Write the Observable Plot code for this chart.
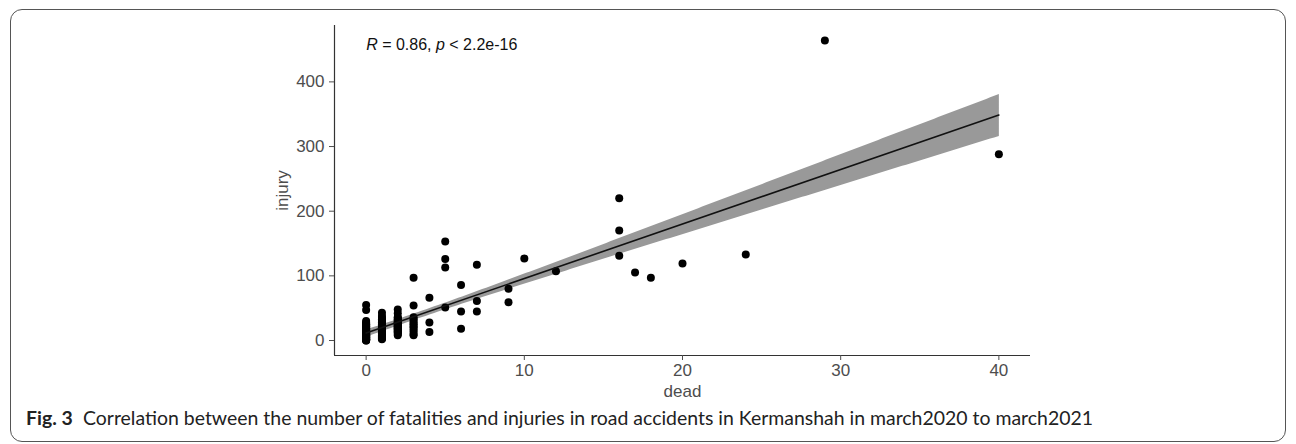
<!DOCTYPE html>
<html><head><meta charset="utf-8">
<script src="https://cdn.jsdelivr.net/npm/d3@7"></script>
<script src="https://cdn.jsdelivr.net/npm/@observablehq/plot@0.6"></script>
<style>
html,body{margin:0;padding:0;background:#fff;width:1296px;height:444px;overflow:hidden}
#frame{position:absolute;left:10px;top:9px;width:1276px;height:433px;border:1.3px solid #555;border-radius:12px;box-sizing:border-box}
#chart{position:absolute;left:0;top:0}
#caption{position:absolute;left:26px;top:406px;font-family:Lato,"Open Sans",sans-serif;font-size:19px;color:#222;white-space:nowrap;transform-origin:0 50%}
#caption b{font-weight:700;margin-right:10px}
</style></head><body>
<div id="frame"></div>
<div id="chart"></div>
<div id="caption"><b>Fig. 3</b>Correlation between the number of fatalities and injuries in road accidents in Kermanshah in march2020 to march2021</div>
<script>
// daily records: many dots overlap in the columns at 0–3 deaths
const dead = [
  0,0,0,0,0,0,0,0,0,0,0,0,0,0,0,0,0,0,0,0,
  0,0,0,0,0,0,0,0,0,0,0,0,0,0,0,0,0,0,0,0,
  1,1,1,1,1,1,1,1,1,1,1,1,1,
  1,1,1,1,1,1,1,1,1,1,1,1,1,1,1,1,1,1,1,1,
  2,2,2,2,2,2,2,2,2,2,2,
  2,2,2,2,2,2,2,2,2,2,2,2,2,2,2,
  3,3,3,3,3,3,3,3,
  3,3,3,3,3,
  4,4,4,
  5,5,5,5,
  6,6,6,
  7,7,7,
  9,9,
  10,12,16,16,16,17,18,20,24,29,40
];
const injury = [
  55,47,30,28,26,24,22,20,18,16,14,12,10,8,6,5,3,2,1,0,
  0,1,2,3,4,5,6,7,8,9,10,11,12,13,15,17,19,21,23,25,
  43,38,33,28,25,22,19,16,13,10,8,5,3,
  2,4,6,7,9,11,12,14,15,17,18,20,21,23,24,26,27,30,32,35,
  48,42,36,32,28,25,22,19,16,12,8,
  10,13,14,17,18,20,21,23,24,26,27,29,30,33,35,
  97,54,36,30,25,20,14,8,
  10,17,22,27,33,
  66,28,13,
  153,126,113,51,
  86,45,18,
  117,61,45,
  80,59,
  127,107,220,170,131,105,97,119,133,464,288
];
const xTicks = [0, 10, 20, 30, 40];
const yTicks = [0, 100, 200, 300, 400];
const xDomain = [-2, 42];
const yDomain = [-23.2, 487.2];
const xLabel = "dead";
const yLabel = "injury";
const corrLabel = [{x: 0, y: 458, text: "R = 0.86, p < 2.2e-16"}];

const data = dead.map((d, i) => ({dead: d, injury: injury[i]}));

const plot = Plot.plot({
  width: 1296, height: 444,
  marginLeft: 334, marginRight: 266, marginTop: 25, marginBottom: 89,
  x: {domain: xDomain},
  y: {domain: yDomain},
  style: {fontFamily: "'Liberation Sans', Arial, sans-serif", fontSize: "17px", color: "#333", background: "transparent", overflow: "visible"},
  marks: [
    Plot.linearRegressionY(data, {x: "dead", y: "injury", ci: 0.95, stroke: "none", fill: "#999", fillOpacity: 1}),
    Plot.dot(data, {x: "dead", y: "injury", r: 4, fill: "#000", stroke: "none"}),
    Plot.linearRegressionY(data, {x: "dead", y: "injury", ci: 0, stroke: "#111", strokeWidth: 1.6}),
    Plot.ruleX([xDomain[0]], {stroke: "#333", strokeWidth: 1.2}),
    Plot.ruleY([yDomain[0]], {stroke: "#333", strokeWidth: 1.2}),
    Plot.axisX({ticks: xTicks, tickSize: 5, tickPadding: 3, label: xLabel, labelAnchor: "center", labelArrow: "none", labelOffset: 41, color: "#4d4d4d"}),
    Plot.axisY({ticks: yTicks, tickSize: 5, tickPadding: 5, label: yLabel, labelAnchor: "center", labelArrow: "none", labelOffset: 59, color: "#4d4d4d"}),
    Plot.text(corrLabel, {x: "x", y: "y", text: "text", textAnchor: "start", fontSize: 16, fill: "#111"})
  ]
});
document.getElementById("chart").appendChild(plot);

// italicise R and p in the correlation label
plot.querySelectorAll("text").forEach(t => {
  if (t.textContent === corrLabel[0].text) {
    t.textContent = "";
    const parts = [["R", true], [" = 0.86, ", false], ["p", true], [" < 2.2e-16", false]];
    for (const [s, it] of parts) {
      const ts = document.createElementNS("http://www.w3.org/2000/svg", "tspan");
      ts.textContent = s;
      if (it) ts.setAttribute("font-style", "italic");
      t.appendChild(ts);
    }
  }
});

// fit caption to the reference width
const cap = document.getElementById("caption");
const w = cap.getBoundingClientRect().width;
cap.style.transform = `scaleX(${(1093 - 26) / w})`;
</script>
</body></html>
